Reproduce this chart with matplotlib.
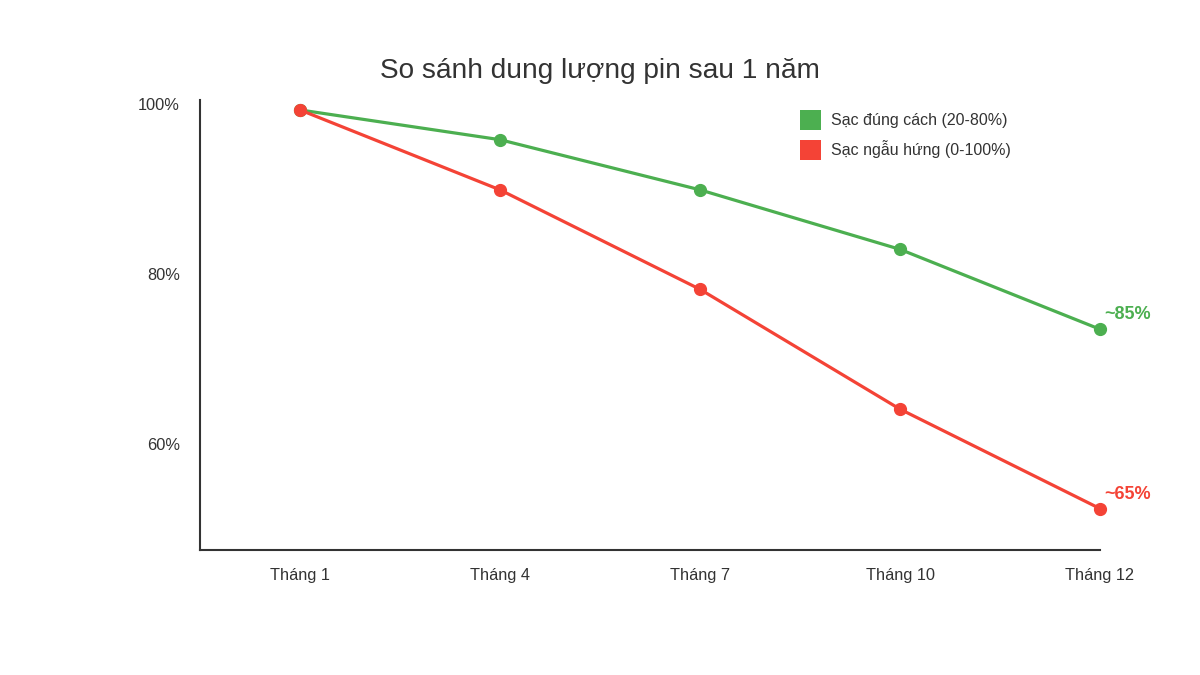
import matplotlib
matplotlib.use("Agg")
import matplotlib.pyplot as plt
from matplotlib.patches import Patch

plt.rcParams['font.family'] = ['Liberation Sans', 'DejaVu Sans']

# Data
months = ["Tháng 1", "Tháng 4", "Tháng 7", "Tháng 10", "Tháng 12"]
proper_charge = [99.3, 95.8, 89.9, 82.9, 73.5]
random_charge = [99.3, 89.9, 78.2, 64.1, 52.4]
series_labels = ["Sạc đúng cách (20-80%)", "Sạc ngẫu hứng (0-100%)"]
end_labels = ["~85%", "~65%"]
y_ticks = [60, 80, 100]
y_tick_labels = ["60%", "80%", "100%"]
title = "So sánh dung lượng pin sau 1 năm"

GREEN = "#4CAF50"
RED = "#F44336"
TXT = "#333333"

W, H = 1200, 675
fig = plt.figure(figsize=(12, 6.75), dpi=100)
ax = fig.add_axes([200 / W, (H - 550) / H, 900 / W, 450 / H])

x = list(range(len(months)))
ax.plot(x, proper_charge, color=GREEN, lw=2.3, marker='o', ms=8.5, zorder=3,
        clip_on=False)
ax.plot(x, random_charge, color=RED, lw=2.3, marker='o', ms=8.5, zorder=4,
        clip_on=False)

ax.set_xlim(-0.5, 4)
ax.set_ylim(47.53, 100.47)

ax.set_xticks(x)
ax.set_xticklabels(months)
ax.set_yticks(y_ticks)
ax.set_yticklabels(y_tick_labels)
ax.tick_params(axis='both', length=0, labelsize=11.8, labelcolor=TXT)
ax.tick_params(axis='x', pad=13)
ax.tick_params(axis='y', pad=14.5)

for s in ['top', 'right']:
    ax.spines[s].set_visible(False)
for s in ['left', 'bottom']:
    ax.spines[s].set_color(TXT)
    ax.spines[s].set_linewidth(1.5)

# End annotations
ax.annotate(end_labels[0], (x[-1], proper_charge[-1]), xytext=(3, 10.5),
            textcoords='offset points', color=GREEN, fontsize=13,
            fontweight='bold', ha='left', va='center')
ax.annotate(end_labels[1], (x[-1], random_charge[-1]), xytext=(3, 10.5),
            textcoords='offset points', color=RED, fontsize=13,
            fontweight='bold', ha='left', va='center')

# Legend
handles = [Patch(facecolor=GREEN, edgecolor='none'),
           Patch(facecolor=RED, edgecolor='none')]
leg = fig.legend(handles, series_labels, loc='upper left',
                 bbox_to_anchor=(800 / W, 1 - 110 / H), frameon=False,
                 fontsize=11.5, handlelength=1.3, handleheight=1.55,
                 handletextpad=0.65, labelspacing=0.6, borderpad=0,
                 borderaxespad=0)
for t in leg.get_texts():
    t.set_color(TXT)

fig.text(0.5, 1 - 71 / H, title, ha='center', va='center', fontsize=20.2,
         color=TXT)

fig.savefig("out.png", dpi=100, facecolor='white')
